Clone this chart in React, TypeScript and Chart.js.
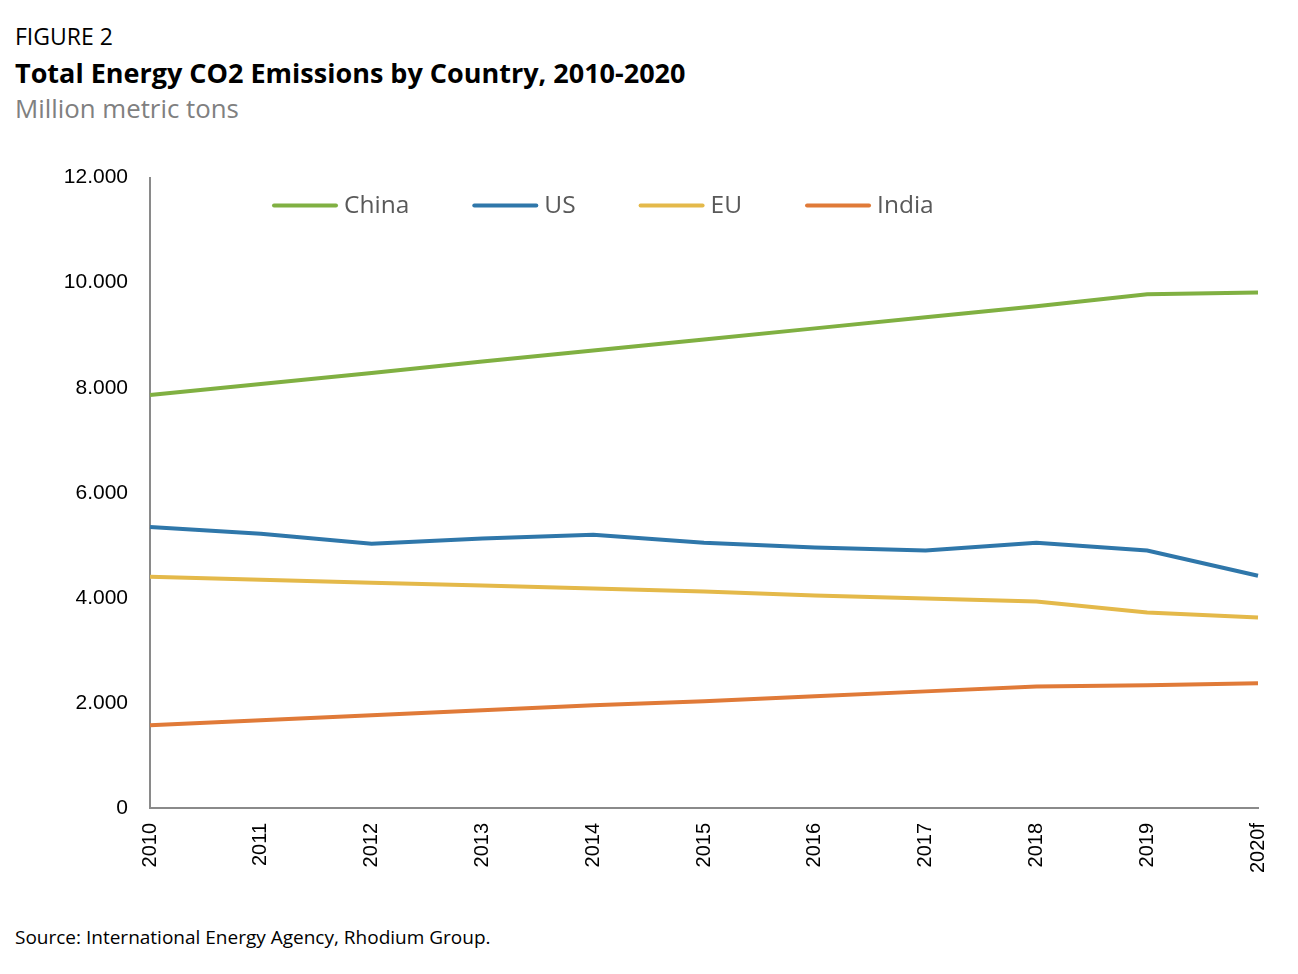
import React, { useEffect, useRef } from "react";
import { Chart, registerables } from "chart.js";

Chart.register(...registerables);

const years = ["2010", "2011", "2012", "2013", "2014", "2015", "2016", "2017", "2018", "2019", "2020f"];
const china = [7860, 8070, 8280, 8500, 8710, 8920, 9130, 9340, 9550, 9780, 9815];
const us = [5350, 5220, 5030, 5130, 5200, 5050, 4960, 4900, 5050, 4900, 4420];
const eu = [4400, 4345, 4290, 4235, 4180, 4120, 4045, 3990, 3930, 3720, 3625];
const india = [1575, 1670, 1765, 1860, 1955, 2030, 2125, 2220, 2315, 2335, 2375];
const seriesNames = ["China", "US", "EU", "India"];
const seriesColors = ["#80b042", "#2f77aa", "#e4b94a", "#e07a38"];
const yMin = 0;
const yMax = 12000;
const yStep = 2000;

const legendPlugin = {
  id: "customLegend",
  afterDraw(chart: any) {
    const { ctx, chartArea } = chart;
    ctx.save();
    ctx.font = '24.5px "Open Sans"';
    let x = chartArea.left + 122;
    const y = chartArea.top + 28;
    chart.data.datasets.forEach((ds: any) => {
      ctx.strokeStyle = ds.borderColor;
      ctx.lineWidth = 4;
      ctx.lineCap = "round";
      ctx.beginPath();
      ctx.moveTo(x + 2, y);
      ctx.lineTo(x + 64, y);
      ctx.stroke();
      x += 72;
      ctx.fillStyle = "#595959";
      ctx.textBaseline = "middle";
      ctx.textAlign = "left";
      ctx.fillText(ds.label, x, y);
      x += ctx.measureText(ds.label).width + 63;
    });
    ctx.restore();
  },
};

export default function App() {
  const ref = useRef<HTMLCanvasElement | null>(null);

  useEffect(() => {
    if (!ref.current) return;
    const values = [china, us, eu, india];
    const chart = new Chart(ref.current, {
      type: "line",
      data: {
        labels: years,
        datasets: values.map((v, i) => ({
          label: seriesNames[i],
          data: v,
          borderColor: seriesColors[i],
          backgroundColor: seriesColors[i],
          borderWidth: 4,
          pointRadius: 0,
          tension: 0,
          fill: false,
        })),
      },
      options: {
        animation: false,
        responsive: false,
        layout: { padding: { left: 0, right: 40, top: 19, bottom: 0 } },
        plugins: {
          legend: { display: false },
          tooltip: { enabled: false },
          title: { display: false },
        },
        scales: {
          x: {
            offset: false,
            grid: { display: false, drawTicks: false },
            border: { display: true, color: "#8a8a8a", width: 2 },
            ticks: {
              autoSkip: false,
              minRotation: 90,
              maxRotation: 90,
              padding: 15,
              color: "#000000",
              font: { family: '"Liberation Sans", Arial, sans-serif', size: 20 },
            },
            afterFit: (s: any) => {
              s.height = 92;
            },
          },
          y: {
            min: yMin,
            max: yMax,
            grid: { display: false, drawTicks: false },
            border: { display: true, color: "#8a8a8a", width: 2 },
            ticks: {
              stepSize: yStep,
              padding: 22,
              color: "#000000",
              font: { family: '"Liberation Sans", Arial, sans-serif', size: 21 },
              callback: (v: any) => (Number(v) === 0 ? "0" : (Number(v) / 1000).toFixed(3)),
            },
            afterFit: (s: any) => {
              s.width = 150;
            },
          },
        },
      },
      plugins: [legendPlugin],
    });
    return () => chart.destroy();
  }, []);

  const os = '"Open Sans", sans-serif';
  return (
    <div>
      <div style={{ position: "absolute", left: 15, top: 24.6, fontFamily: os, fontSize: 23, lineHeight: "23px", color: "#000", whiteSpace: "nowrap" }}>
        FIGURE 2
      </div>
      <div style={{ position: "absolute", left: 15, top: 58.7, fontFamily: os, fontSize: 27, lineHeight: "27px", fontWeight: 700, color: "#000", whiteSpace: "nowrap" }}>
        Total Energy CO2 Emissions by Country, 2010-2020
      </div>
      <div style={{ position: "absolute", left: 15, top: 96.1, fontFamily: os, fontSize: 25.8, lineHeight: "25.8px", color: "#808080", whiteSpace: "nowrap" }}>
        Million metric tons
      </div>
      <canvas
        ref={ref}
        width={1298}
        height={757}
        style={{ position: "absolute", left: 0, top: 143, width: 1298, height: 757 }}
      />
      <div style={{ position: "absolute", left: 15, top: 927.6, fontFamily: os, fontSize: 19, lineHeight: "19px", color: "#000", whiteSpace: "nowrap" }}>
        Source: International Energy Agency, Rhodium Group.
      </div>
    </div>
  );
}
